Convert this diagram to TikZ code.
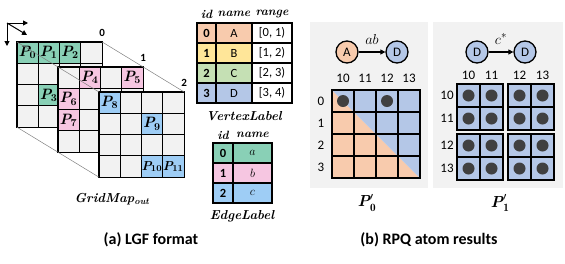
\documentclass[tikz,border=0pt]{standalone}
\usepackage{amsmath}
\usepackage{bm}
\usepackage{fontspec}
\setsansfont{Carlito}
\usetikzlibrary{arrows.meta,positioning,calc}
\definecolor{partGreen}{RGB}{137,208,182}
\definecolor{partPink}{RGB}{246,198,225}
\definecolor{partBlue}{RGB}{158,205,245}
\definecolor{cellGray}{RGB}{242,242,242}
\definecolor{vOrange}{RGB}{248,203,173}
\definecolor{vYellow}{RGB}{255,230,153}
\definecolor{vGreen}{RGB}{197,224,180}
\definecolor{vBlue}{RGB}{180,199,231}
\definecolor{dotGray}{RGB}{64,64,64}
\newcommand{\bip}[1]{\ifnum#1>9 \fontsize{13}{13}\selectfont\fi
  {\bfseries\itshape P}\kern-0.8pt\textsubscript{\bfseries #1}}

\begin{document}
\begin{tikzpicture}[x=1pt, y=-1pt,
  every node/.style={font=\sffamily},
  gcell/.style={draw, line width=1.1pt, fill=cellGray},
  pcell/.style={inner sep=0pt, font=\rmfamily\fontsize{15}{15}\selectfont},
  tcell/.style={draw, line width=1.1pt, minimum height=20pt, inner sep=0pt,
                font=\sffamily\fontsize{12.5}{12.5}\selectfont},
  tid/.style={tcell, font=\sffamily\bfseries\fontsize{12.5}{12.5}\selectfont},
  hdr/.style={font=\rmfamily\bfseries\itshape\fontsize{12}{12}\selectfont},
  tname/.style={font=\rmfamily\bfseries\itshape\fontsize{13}{13}\selectfont},
  lyr/.style={font=\sffamily\bfseries\fontsize{11}{11}\selectfont},
  vtx/.style={circle, draw, line width=1.3pt, minimum size=22pt, inner sep=0pt,
              font=\sffamily\fontsize{13}{13}\selectfont},
  lbl/.style={font=\sffamily\fontsize{13}{13}\selectfont},
  qline/.style={draw, line width=1.2pt},
  pdot/.style={circle, fill=dotGray, minimum size=12pt, inner sep=0pt},
  capt/.style={font=\sffamily\bfseries\fontsize{16}{16}\selectfont},
  guide/.style={draw=gray, line width=0.5pt},
  ax/.style={-{Triangle[length=5pt,width=5pt]}, line width=1pt},
]
\useasboundingbox (0,0) rectangle (565,263);

% axes icon
\coordinate (ax0) at (7,23);
\coordinate (axX) at (28,23);
\coordinate (axY) at (7,46);
\coordinate (axZ) at (27,35);
\draw[ax] (ax0) -- (axX);
\draw[ax] (ax0) -- (axY);
\draw[ax] (ax0) -- (axZ);

% GridMap layers
\foreach \l/\cells in {0/{0/0/partGreen/0,0/1/partGreen/1,0/2/partGreen/2,2/1/partGreen/3},
                       1/{0/1/partPink/4,0/3/partPink/5,1/0/partPink/6,2/0/partPink/7},
                       2/{0/0/partBlue/8,1/2/partBlue/9,3/2/partBlue/10,3/3/partBlue/11}} {
  \coordinate (L\l) at ({17+41*\l},{42+25*\l});
  \coordinate (TR\l) at ($(L\l)+(85.2,0)$);
  \coordinate (BL\l) at ($(L\l)+(0,85.2)$);
  \foreach \r in {0,...,3} \foreach \c in {0,...,3}
    \draw[gcell] ($(L\l)+(21.3*\c,21.3*\r)$) rectangle ++(21.3,21.3);
  \foreach \r/\c/\col/\pn in \cells
    \draw[gcell, fill=\col] ($(L\l)+(21.3*\c,21.3*\r)$) rectangle ++(21.3,21.3);
  \foreach \r/\c/\col/\pn in \cells
    \node[pcell] (p\pn) at ($(L\l)+(21.3*\c+10.3,21.3*\r+10.65)$) {\bip{\pn}};
  \node[lyr] (n\l) at ($(TR\l)+(0,-9)$) {\l};
}
\draw[guide] (L0) -- (L2);
\draw[guide] (TR0) -- (TR2);
\draw[guide] (BL0) -- (BL2);
\node[tname] (gmap) at (112,199) {GridMap\textsubscript{out}};

% VertexLabel table
\node[hdr] (vhid) at (206.5,14) {id};
\node[hdr] (vhname) at (234,14) {name};
\node[hdr] (vhrange) at (272,14) {range};
\foreach \k/\col/\nm/\rg in {0/vOrange/A/{[0, 1)},1/vYellow/B/{[1, 2)},
                             2/vGreen/C/{[2, 3)},3/vBlue/D/{[3, 4)}} {
  \node[tid, fill=\col, minimum width=19pt] (vid\k) at (206.5,{33+20*\k}) {\k};
  \node[tcell, fill=\col, minimum width=36pt] (vnm\k) at (234,{33+20*\k}) {\nm};
  \node[tcell, fill=white, minimum width=40pt] (vrg\k) at (272,{33+20*\k}) {\rg};
}
\node[tname] (vlab) at (244,116) {VertexLabel};

% EdgeLabel table
\node[hdr] (ehid) at (223,135) {id};
\node[hdr] (ehname) at (252.5,135) {name};
\foreach \k/\col/\nm in {0/partGreen/a,1/partPink/b,2/partBlue/c} {
  \node[tid, fill=\col, minimum width=20pt] (eid\k) at (223,{153+20*\k}) {\k};
  \node[tcell, fill=\col, minimum width=39pt, font=\fontsize{13}{13}\selectfont]
    (enm\k) at (252.5,{153+20*\k}) {$\nm$};
}
\node[tname] (elab) at (242,216) {EdgeLabel};

% RPQ panels
\fill[cellGray] (310,22) rectangle (428,188);
\fill[cellGray] (433,22) rectangle (563,188);

\node[vtx, fill=vOrange] (qA) at (347,52) {A};
\node[vtx, fill=vBlue] (qD) at (397,52) {D};
\draw[ax, line width=1.1pt] (qA) -- (qD)
  node[midway, above=4pt, font=\fontsize{15}{15}\selectfont] (lab0) {$ab$};

\node[vtx, fill=vBlue] (rD) at (477,52) {D};
\node[vtx, fill=vBlue] (rE) at (525,52) {D};
\draw[ax, line width=1.1pt] (rD) -- (rE)
  node[midway, above=4pt, font=\fontsize{15}{15}\selectfont] (lab1) {$c^*$};

% P'_0
\coordinate (g0) at (332,90);
\fill[vOrange] (g0) -- ++(0,88) -- ++(88,0) -- cycle;
\fill[vBlue] (g0) -- ++(88,0) -- ++(0,88) -- cycle;
\foreach \r in {0,...,3} \foreach \c in {0,...,3}
  \draw[qline] ($(g0)+(22*\c,22*\r)$) rectangle ++(22,22);
\node[pdot] (d0) at (343,101) {};
\node[pdot] (d2) at (387,101) {};
\foreach \c [count=\k from 0] in {10,...,13}
  \node[lbl] (c\c) at ({343+22*\k},78) {\c};
\foreach \r in {0,...,3}
  \node[lbl] (r\r) at (321,{101+22*\r}) {\r};
\node[tname, font=\rmfamily\bfseries\itshape\fontsize{16}{16}\selectfont]
  (pl0) at (367,203) {P$'_{\mathbf{0}}$};

% P'_1
\foreach \bx/\by in {457/84,508/84,457/134,508/134} {
  \foreach \r in {0,1} \foreach \c in {0,1} {
    \draw[qline, fill=vBlue] (\bx+23*\c,\by+23*\r) rectangle ++(23,23);
    \node[pdot] (e\bx-\by-\r\c) at (\bx+23*\c+11.5,\by+23*\r+11.5) {};
  }
  \draw[line width=1.8pt] (\bx,\by) rectangle ++(46,46);
}
\foreach \c/\cx in {10/468.5,11/491.5,12/519.5,13/542.5}
  \node[lbl] (cc\c) at (\cx,75) {\c};
\foreach \r/\ry in {10/95.5,11/118.5,12/145.5,13/168.5}
  \node[lbl] (rr\r) at (447,\ry) {\r};
\node[tname, font=\rmfamily\bfseries\itshape\fontsize{16}{16}\selectfont]
  (pl1) at (500,203) {P$'_{\mathbf{1}}$};

\node[capt] (capa) at (151,240) {(a) LGF format};
\node[capt] (capb) at (429,240) {(b) RPQ atom results};
\end{tikzpicture}
\end{document}
